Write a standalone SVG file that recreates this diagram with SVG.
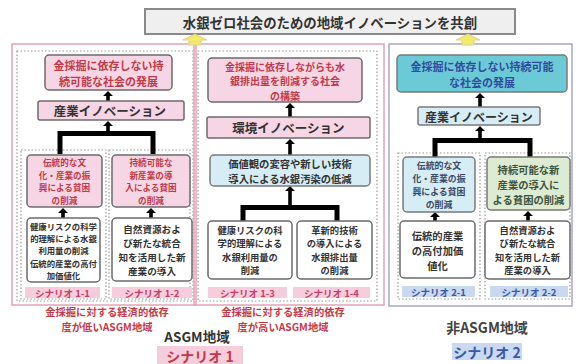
<svg xmlns="http://www.w3.org/2000/svg" width="576" height="364" viewBox="0 0 576 364">
<style>
text{font-family:"Noto Sans CJK JP","Noto Sans CJK SC",sans-serif;font-weight:bold;dominant-baseline:central;text-anchor:middle}
.pk{fill:#f6d6e4;stroke:#6b6b6b;stroke-width:1.5}
.wt{fill:#fff;stroke:#6b6b6b;stroke-width:1.5}
.lb{fill:#d6edf5;stroke:#7a7a7a;stroke-width:1.5}
.tl{fill:#6ccad6;stroke:#7a7a7a;stroke-width:1.5}
.gn{fill:#dcebd1;stroke:#7a7a7a;stroke-width:1.5}
.dot{fill:none;stroke:#9a9a9a;stroke-width:1.2;stroke-dasharray:1.5 2}
.pb{fill:none;stroke:#e3a3b6;stroke-width:1.5}
.gb{fill:none;stroke:#a8a8c0;stroke-width:1.5}
.r{fill:#c23a4a}
.k{fill:#333}
.b{fill:#2f4d9c}
.sp{fill:#f6cddc}
.sb{fill:#c9d9ef}
.brk{fill:none;stroke:#000;stroke-width:5}
.ar{fill:#000}
.ya{fill:#f4ea6a;stroke:#d8d090;stroke-width:1}
</style>

<!-- panels -->
<g id="panel-left">
<rect class="pb" x="12" y="44" width="184" height="261"/>
<rect class="dot" x="17" y="51" width="176" height="250"/>
<rect class="dot" x="21" y="150" width="85" height="149"/>
<rect class="dot" x="109" y="150" width="81" height="149"/>
</g>
<g id="panel-mid">
<rect class="pb" x="194" y="44" width="190" height="261"/>
<rect class="dot" x="198" y="51" width="179" height="250"/>
</g>
<g id="panel-right">
<rect class="gb" x="389" y="44" width="183" height="262"/>
<rect class="dot" x="398" y="153" width="82" height="146"/>
<rect class="dot" x="485" y="153" width="85" height="146"/>
</g>

<!-- title -->
<g id="title">
<rect x="145" y="9" width="370" height="25" fill="#efefef" stroke="#8a8a8a" stroke-width="2"/>
<text class="k" x="330" y="21.5" font-size="13.4">水銀ゼロ社会のための地域イノベーションを共創</text>
</g>

<!-- connectors -->
<g id="connectors">
<path class="ya" d="M195,34 L207,40 L201,40 L201,45 L189,45 L189,40 L183,40 Z"/>
<path class="ya" d="M468,34 L480,40 L474,40 L474,45 L462,45 L462,40 L456,40 Z"/>
<!-- left -->
<path class="ar" d="M108,91 L113,96 L109.8,96 L109.8,101 L106.2,101 L106.2,96 L103,96 Z"/>
<path class="ar" d="M108,121 L113,126 L109.8,126 L109.8,132 L106.2,132 L106.2,126 L103,126 Z"/>
<path class="brk" d="M60,154 V133.5 H153 V154"/>
<path class="ar" d="M63,208 L68,213 L64.8,213 L64.8,218 L61.2,218 L61.2,213 L58,213 Z"/>
<path class="ar" d="M151,208 L156,213 L152.8,213 L152.8,218 L149.2,218 L149.2,213 L146,213 Z"/>
<!-- middle -->
<path class="ar" d="M290,103 L295,108 L291.8,108 L291.8,117 L288.2,117 L288.2,108 L285,108 Z"/>
<path class="ar" d="M290,139 L295,144 L291.8,144 L291.8,155 L288.2,155 L288.2,144 L285,144 Z"/>
<path class="ar" d="M290,186 L295,191 L291.8,191 L291.8,205 L288.2,205 L288.2,191 L285,191 Z"/>
<path class="brk" d="M243,221 V207.5 H337 V221"/>
<!-- right -->
<path class="ar" d="M480,93 L485,98 L481.8,98 L481.8,107 L478.2,107 L478.2,98 L475,98 Z"/>
<path class="ar" d="M480,126 L485,131 L481.8,131 L481.8,138 L478.2,138 L478.2,131 L475,131 Z"/>
<path class="brk" d="M435,157 V140.5 H530 V157"/>
<path class="ar" d="M435,212 L440,217 L436.8,217 L436.8,221 L433.2,221 L433.2,217 L430,217 Z"/>
<path class="ar" d="M528,211 L533,216 L529.8,216 L529.8,221 L526.2,221 L526.2,216 L523,216 Z"/>
</g>

<!-- left panel nodes -->
<g id="n-l-goal">
<rect class="pk" x="45" y="55" width="127" height="35" rx="4"/>
<text class="r" font-size="11"><tspan x="108.5" y="64.5">金採掘に依存しない持</tspan><tspan x="108.5" y="80.5">続可能な社会の発展</tspan></text>
</g>
<g id="n-l-inno">
<rect class="pk" x="38" y="101" width="146" height="19" rx="2"/>
<text class="k" x="110" y="110.5" font-size="12.5">産業イノベーション</text>
</g>
<g id="n-l-mid1">
<rect class="pk" x="27" y="155" width="75" height="52" rx="4"/>
<text class="r" font-size="8.6"><tspan x="64.5" y="162">伝統的な文</tspan><tspan x="64.5" y="174.5">化・産業の振</tspan><tspan x="64.5" y="187">興による貧困</tspan><tspan x="64.5" y="199.5">の削減</tspan></text>
</g>
<g id="n-l-mid2">
<rect class="pk" x="112" y="155" width="78" height="52" rx="4"/>
<text class="r" font-size="8.6"><tspan x="151" y="162">持続可能な</tspan><tspan x="151" y="174.5">新産業の導</tspan><tspan x="151" y="187">入による貧困</tspan><tspan x="151" y="199.5">の削減</tspan></text>
</g>
<g id="n-l-bot1">
<rect class="wt" x="27" y="218" width="73" height="64" rx="4"/>
<text class="k" font-size="8.4"><tspan x="63.5" y="226">健康リスクの科学</tspan><tspan x="63.5" y="238.2">的理解による水銀</tspan><tspan x="63.5" y="250.4">利用量の削減</tspan><tspan x="63.5" y="262.6">伝統的産業の高付</tspan><tspan x="63.5" y="274.8">加価値化</tspan></text>
</g>
<g id="n-l-bot2">
<rect class="wt" x="112" y="218" width="80" height="63" rx="4"/>
<text class="k" font-size="9.6"><tspan x="152" y="228.5">自然資源およ</tspan><tspan x="152" y="242.5">び新たな統合</tspan><tspan x="152" y="256.5">知を活用した新</tspan><tspan x="152" y="270.5">産業の導入</tspan></text>
</g>
<g id="s11"><rect class="sp" x="25" y="287" width="75" height="11"/><text x="62.5" y="292.5" font-size="9.5" fill="#c4406a">シナリオ 1-1</text></g>
<g id="s12"><rect class="sp" x="112" y="287" width="80" height="11"/><text x="152" y="292.5" font-size="9.5" fill="#c4406a">シナリオ 1-2</text></g>

<!-- middle panel nodes -->
<g id="n-m-goal">
<rect class="pk" x="208" y="58" width="154" height="44" rx="4"/>
<text class="r" font-size="10"><tspan x="285" y="65.5">金採掘に依存しながらも水</tspan><tspan x="285" y="80">銀排出量を削減する社会</tspan><tspan x="285" y="94.5">の構築</tspan></text>
</g>
<g id="n-m-inno">
<rect class="pk" x="207" y="117" width="163" height="21" rx="2"/>
<text class="k" x="288.5" y="127.5" font-size="12.5">環境イノベーション</text>
</g>
<g id="n-m-mid">
<rect class="lb" x="210" y="155" width="160" height="31" rx="4"/>
<text class="k" font-size="10.3"><tspan x="290" y="163">価値観の変容や新しい技術</tspan><tspan x="290" y="178">導入による水銀汚染の低減</tspan></text>
</g>
<g id="n-m-bot1">
<rect class="wt" x="208" y="221" width="84" height="58" rx="4"/>
<text class="k" font-size="9.3"><tspan x="250" y="229.5">健康リスクの科</tspan><tspan x="250" y="243">学的理解による</tspan><tspan x="250" y="256.5">水銀利用量の</tspan><tspan x="250" y="270">削減</tspan></text>
</g>
<g id="n-m-bot2">
<rect class="wt" x="297" y="221" width="75" height="58" rx="4"/>
<text class="k" font-size="9.3"><tspan x="334.5" y="229.5">革新的技術</tspan><tspan x="334.5" y="243">の導入による</tspan><tspan x="334.5" y="256.5">水銀排出量</tspan><tspan x="334.5" y="270">の削減</tspan></text>
</g>
<g id="s13"><rect class="sp" x="208" y="287" width="79" height="11"/><text x="247.5" y="292.5" font-size="9.5" fill="#c4406a">シナリオ 1-3</text></g>
<g id="s14"><rect class="sp" x="293" y="287" width="77" height="11"/><text x="331.5" y="292.5" font-size="9.5" fill="#c4406a">シナリオ 1-4</text></g>

<!-- right panel nodes -->
<g id="n-r-goal">
<rect class="tl" x="397" y="55" width="170" height="37" rx="4"/>
<text class="b" font-size="11"><tspan x="482" y="65.5">金採掘に依存しない持続可能</tspan><tspan x="482" y="81.5">な社会の発展</tspan></text>
</g>
<g id="n-r-inno">
<rect class="lb" x="418" y="107" width="122" height="18" rx="2"/>
<text class="k" x="479" y="116" font-size="12">産業イノベーション</text>
</g>
<g id="n-r-mid1">
<rect class="lb" x="403" y="157" width="72" height="55" rx="4"/>
<text fill="#3d4a66" font-size="8.9"><tspan x="439" y="165">伝統的な文</tspan><tspan x="439" y="178">化・産業の振</tspan><tspan x="439" y="191">興による貧困</tspan><tspan x="439" y="204">の削減</tspan></text>
</g>
<g id="n-r-mid2">
<rect class="gn" x="487" y="157" width="83" height="53" rx="4"/>
<text fill="#3e5540" font-size="10.3"><tspan x="528.5" y="168.5">持続可能な新</tspan><tspan x="528.5" y="183.5">産業の導入に</tspan><tspan x="528.5" y="198.5">よる貧困の削減</tspan></text>
</g>
<g id="n-r-bot1">
<rect class="wt" x="400" y="221" width="75" height="57" rx="4"/>
<text class="k" font-size="10.3"><tspan x="437.5" y="234.5">伝統的産業</tspan><tspan x="437.5" y="249.5">の高付加価</tspan><tspan x="437.5" y="264.5">値化</tspan></text>
</g>
<g id="n-r-bot2">
<rect class="wt" x="485" y="221" width="85" height="58" rx="4"/>
<text class="k" font-size="9.3"><tspan x="527.5" y="229.5">自然資源およ</tspan><tspan x="527.5" y="243">び新たな統合</tspan><tspan x="527.5" y="256.5">知を活用した新</tspan><tspan x="527.5" y="270">産業の導入</tspan></text>
</g>
<g id="s21"><rect class="sb" x="402" y="286" width="73" height="11"/><text x="438.5" y="291.5" font-size="9.5" fill="#3a56a8">シナリオ 2-1</text></g>
<g id="s22"><rect class="sb" x="490" y="286" width="78" height="11"/><text x="529" y="291.5" font-size="9.5" fill="#3a56a8">シナリオ 2-2</text></g>

<!-- captions -->
<g id="cap-low">
<text class="r" font-size="10.3"><tspan x="107" y="311">金採掘に対する経済的依存</tspan><tspan x="107" y="326">度が低いASGM地域</tspan></text>
</g>
<g id="cap-high">
<text class="r" font-size="10.3"><tspan x="283" y="311">金採掘に対する経済的依存</tspan><tspan x="283" y="326">度が高いASGM地域</tspan></text>
</g>
<g id="cap-asgm">
<text class="k" x="197" y="335.5" font-size="13.5">ASGM地域</text>
<rect class="sp" x="157" y="346" width="86" height="18"/>
<text x="200" y="355.5" font-size="14" fill="#c23a4a">シナリオ 1</text>
</g>
<g id="cap-non">
<text x="487" y="327" font-size="14" fill="#444">非ASGM地域</text>
<rect class="sb" x="452" y="343" width="70" height="17"/>
<text x="487" y="351.5" font-size="14" fill="#3a56a8">シナリオ 2</text>
</g>
</svg>
